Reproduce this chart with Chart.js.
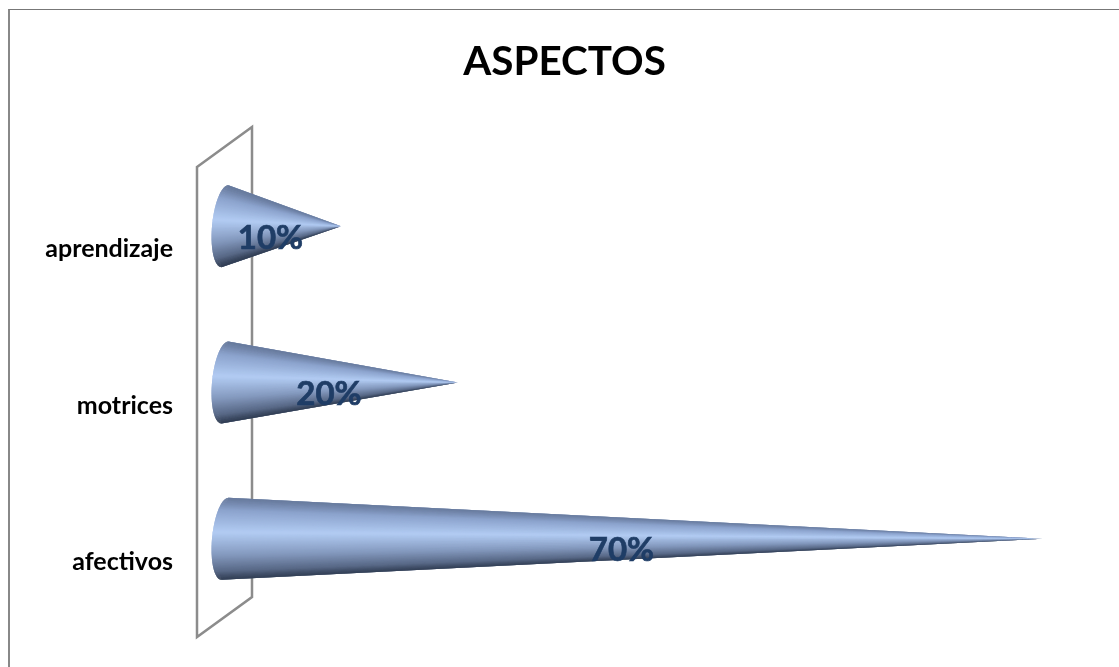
<!DOCTYPE html>
<html>
<head>
<meta charset="utf-8">
<title>ASPECTOS</title>
<script src="https://cdn.jsdelivr.net/npm/chart.js@4"></script>
<style>
  html, body { margin: 0; background: #fff; overflow: hidden; }
  #frame { position: absolute; left: 8px; top: 9px; width: 1111px; height: 658px; border-left: 2px solid #888; border-top: 1px solid #777; box-sizing: border-box; }
  #wrap { position: absolute; left: 0; top: 0; width: 1109px; height: 656px; }
</style>
</head>
<body>
<div id="frame"><div id="wrap"><canvas id="myChart"></canvas></div></div>
<script>
const categories = ['aprendizaje', 'motrices', 'afectivos'];
const values = [10, 20, 70];
const fontName = 'Lato, "Open Sans", sans-serif';

// colour across the cone, top edge to bottom edge
const shadeStops = [
  [0, [100, 118, 152]],
  [0.15, [140, 163, 205]],
  [0.42, [178, 204, 243]],
  [0.7, [132, 153, 190]],
  [0.9, [88, 104, 134]],
  [1, [45, 57, 78]]
];

const shadeAt = (t) => {
  for (let i = 1; i < shadeStops.length; i++) {
    if (t <= shadeStops[i][0]) {
      const a = shadeStops[i - 1], b = shadeStops[i];
      const f = (t - a[0]) / (b[0] - a[0]);
      const c = a[1].map((v, k) => Math.round(v + (b[1][k] - v) * f));
      return `rgb(${c[0]},${c[1]},${c[2]})`;
    }
  }
  return 'rgb(45,57,78)';
};

// the wall behind the cones
const wallPlugin = {
  id: 'wall',
  beforeDatasetsDraw(chart) {
    const { ctx, chartArea: a } = chart;
    ctx.save();
    ctx.strokeStyle = '#8c8c8c';
    ctx.lineWidth = 2.5;
    ctx.beginPath();
    ctx.moveTo(a.left - 27, a.top + 19);
    ctx.lineTo(a.left + 28, a.top - 21);
    ctx.lineTo(a.left + 28, a.bottom - 20);
    ctx.lineTo(a.left - 27, a.bottom + 20);
    ctx.closePath();
    ctx.stroke();
    ctx.restore();
  }
};

// each bar is redrawn as a cone, a fan of thin triangles out of the tip
const conePlugin = {
  id: 'cones',
  afterDatasetsDraw(chart) {
    const { ctx } = chart;
    const meta = chart.getDatasetMeta(0);
    meta.data.forEach((bar, i) => {
      const h = bar.height / 2;
      const cx = bar.base + 1;
      const cy = bar.y;
      const steps = 120;
      const point = (s) => {
        const phi = Math.PI * Math.min(Math.max(s, 0), steps) / steps;
        return [cx + Math.cos(phi) * 3.5 - Math.sin(phi) * 13, cy - Math.cos(phi) * h];
      };
      const strip = (s0, s1, colour) => {
        const p0 = point(s0), p1 = point(s1);
        ctx.fillStyle = colour;
        ctx.beginPath();
        ctx.moveTo(bar.x, bar.y);
        ctx.lineTo(p0[0], p0[1]);
        ctx.lineTo(p1[0], p1[1]);
        ctx.closePath();
        ctx.fill();
      };
      const lightAt = Math.round(Math.acos(1 - 2 * 0.42) / Math.PI * steps);
      const tOf = (s) => (1 - Math.cos(Math.PI * (s + 0.5) / steps)) / 2;
      ctx.save();
      // overlapping strips from both edges in to the light band, no seams
      strip(0, 60, shadeAt(0.2));
      strip(60, 120, shadeAt(0.8));
      for (let s = 0; s < lightAt; s++) strip(s, s + 2, shadeAt(tOf(s)));
      for (let s = steps - 1; s >= lightAt; s--) strip(s + 1, s - 1, shadeAt(tOf(s)));
      // value label
      ctx.fillStyle = ctx.strokeStyle = '#1f3d66';
      ctx.lineWidth = 0.7;
      ctx.font = 'bold 33px ' + fontName;
      ctx.textAlign = 'center';
      ctx.textBaseline = 'middle';
      const lx = (bar.base + bar.x) / 2 - 12;
      ctx.fillText(values[i] + '%', lx, bar.y + 12);
      ctx.strokeText(values[i] + '%', lx, bar.y + 12);
      ctx.restore();
    });
  }
};

const myChart = new Chart(document.getElementById('myChart'), {
  type: 'bar',
  data: {
    labels: categories,
    datasets: [{
      data: values,
      backgroundColor: 'transparent',
      barThickness: 82
    }]
  },
  options: {
    indexAxis: 'y',
    responsive: true,
    maintainAspectRatio: false,
    animation: false,
    layout: { padding: { bottom: 49 } },
    plugins: {
      legend: { display: false },
      tooltip: { enabled: false },
      title: {
        display: true,
        text: 'ASPECTOS',
        color: '#000',
        font: { family: fontName, size: 40.4, weight: 'bold' },
        padding: { top: 28, bottom: 61.5 }
      }
    },
    scales: {
      x: { display: false, min: 0, max: 76.5 },
      y: {
        grid: { display: false, drawTicks: false },
        border: { display: false },
        ticks: {
          color: '#000',
          padding: 51,
          labelOffset: 23,
          font: { family: fontName, size: 25, weight: 'bold' }
        },
        afterFit(scale) {
          scale.width = 214;
          // labelOffset makes the scale ask for room it does not need
          scale.paddingTop = 0;
          scale.paddingBottom = 0;
        }
      }
    }
  },
  plugins: [wallPlugin, conePlugin]
});
</script>
</body>
</html>
